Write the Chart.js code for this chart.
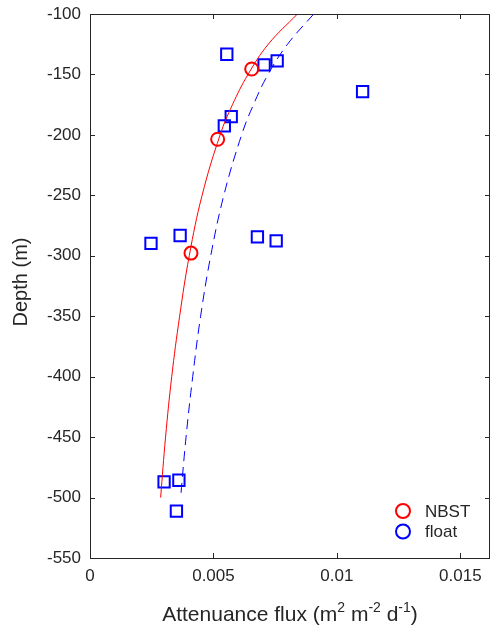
<!DOCTYPE html>
<html lang="en">
  <head>
    <meta charset="UTF-8" />
    <title>Attenuance flux vs depth</title>
    <script src="https://cdn.jsdelivr.net/npm/chart.js"></script>
    <style>
      body {
        margin: 0;
        padding: 0;
        background: #fff;
      }
      #wrap {
        width: 491px;
        height: 627px;
      }
    </style>
  </head>
  <body>
    <div id="wrap"><canvas id="fluxChart" width="491" height="627"></canvas></div>

    <script>
      // NBST sediment trap points
      const nbstFlux = [0.00655, 0.00517, 0.00409];
      const nbstDepth = [-145.5, -203.6, -297.8];

      // float points
      const floatFlux = [0.00554, 0.00705, 0.00758, 0.01104, 0.00572, 0.00544, 0.00247,
        0.00365, 0.00678, 0.00754, 0.003, 0.0036, 0.0035];
      const floatDepth = [-133.3, -142.1, -138.8, -164.2, -184.9, -192.6, -289.8,
        -283.2, -284.3, -287.6, -487.0, -485.7, -511.3];

      // fitted curves
      const curveDepth = [-100, -125, -150, -175, -200, -250, -300, -350, -400, -450, -500];
      const nbstCurve = [0.0084, 0.00722, 0.0064, 0.00577, 0.00527, 0.00454, 0.00402,
        0.00363, 0.00331, 0.00306, 0.00286];
      const floatCurve = [0.00906, 0.008, 0.00721, 0.00662, 0.00614, 0.00542, 0.00489,
        0.00448, 0.00416, 0.00389, 0.00367];

      const xTicks = [0, 0.005, 0.01, 0.015];
      const yTicks = [-550, -500, -450, -400, -350, -300, -250, -200, -150, -100];
      const legendLabels = ["NBST", "float"];

      const axisColor = "#262626";
      const red = "#ff0000";
      const blue = "#0000ff";

      const pairs = (xs, ys) => xs.map((v, i) => ({ x: v, y: ys[i] }));

      // box, inward ticks, axis titles and legend
      const framePlugin = {
        id: "frame",
        afterDraw(chart) {
          const ctx = chart.ctx;
          const a = chart.chartArea;
          const xs = chart.scales.x;
          const ys = chart.scales.y;
          ctx.save();
          ctx.strokeStyle = axisColor;
          ctx.lineWidth = 1;
          ctx.strokeRect(a.left + 0.5, a.top + 0.5, a.right - a.left - 1, a.bottom - a.top);
          ctx.beginPath();
          xTicks.forEach((v) => {
            const px = Math.round(xs.getPixelForValue(v)) + 0.5;
            ctx.moveTo(px, a.bottom);
            ctx.lineTo(px, a.bottom - 5);
            ctx.moveTo(px, a.top);
            ctx.lineTo(px, a.top + 5);
          });
          yTicks.forEach((v) => {
            const py = Math.round(ys.getPixelForValue(v)) + 0.5;
            ctx.moveTo(a.left, py);
            ctx.lineTo(a.left + 5, py);
            ctx.moveTo(a.right, py);
            ctx.lineTo(a.right - 5, py);
          });
          ctx.stroke();

          // y title
          ctx.fillStyle = axisColor;
          ctx.font = "20px 'Liberation Sans', Arial, sans-serif";
          ctx.textAlign = "center";
          ctx.textBaseline = "middle";
          ctx.save();
          ctx.translate(21, (a.top + a.bottom) / 2 - 4);
          ctx.rotate(-Math.PI / 2);
          ctx.fillText("Depth (m)", 0, 0);
          ctx.restore();

          // x title with superscripts
          const parts = [
            ["Attenuance flux (m", false],
            ["2", true],
            [" m", false],
            ["-2", true],
            [" d", false],
            ["-1", true],
            [")", false],
          ];
          const big = "21px 'Liberation Sans', Arial, sans-serif";
          const small = "14px 'Liberation Sans', Arial, sans-serif";
          let total = 0;
          parts.forEach(([t, sup]) => {
            ctx.font = sup ? small : big;
            total += ctx.measureText(t).width;
          });
          let x = (a.left + a.right) / 2 - total / 2;
          const base = 621;
          ctx.textAlign = "left";
          ctx.textBaseline = "alphabetic";
          parts.forEach(([t, sup]) => {
            ctx.font = sup ? small : big;
            ctx.fillText(t, x, sup ? base - 9 : base);
            x += ctx.measureText(t).width;
          });

          // legend (markers shown as circles)
          const colors = [red, blue];
          ctx.font = "17px 'Liberation Sans', Arial, sans-serif";
          ctx.textBaseline = "middle";
          legendLabels.forEach((lab, i) => {
            const cy = 511 + i * 20.5;
            ctx.beginPath();
            ctx.strokeStyle = colors[i];
            ctx.lineWidth = 2;
            ctx.arc(403, cy, 7, 0, Math.PI * 2);
            ctx.stroke();
            ctx.fillStyle = axisColor;
            ctx.fillText(lab, 425, cy + 1);
          });
          ctx.restore();
        },
      };

      const tickFont = { family: "'Liberation Sans', Arial, sans-serif", size: 17 };

      new Chart(document.getElementById("fluxChart"), {
        type: "scatter",
        data: {
          datasets: [
            {
              label: "NBST fit",
              data: pairs(nbstCurve, curveDepth),
              showLine: true,
              borderColor: red,
              borderWidth: 1,
              pointRadius: 0,
              tension: 0.4,
            },
            {
              label: "float fit",
              data: pairs(floatCurve, curveDepth),
              showLine: true,
              borderColor: blue,
              borderWidth: 1,
              borderDash: [10, 6],
              pointRadius: 0,
              tension: 0.4,
            },
            {
              label: "NBST",
              data: pairs(nbstFlux, nbstDepth),
              pointStyle: "circle",
              pointRadius: 6.5,
              borderColor: red,
              borderWidth: 2,
              backgroundColor: "rgba(0,0,0,0)",
            },
            {
              label: "float",
              data: pairs(floatFlux, floatDepth),
              pointStyle: "rect",
              pointRadius: 8,
              borderColor: blue,
              borderWidth: 2,
              backgroundColor: "rgba(0,0,0,0)",
            },
          ],
        },
        options: {
          responsive: false,
          animation: false,
          layout: { autoPadding: false, padding: { top: 14, right: 1, left: 0, bottom: 0 } },
          plugins: {
            legend: { display: false },
            tooltip: { enabled: false },
          },
          scales: {
            x: {
              type: "linear",
              min: 0,
              max: 0.0162,
              grid: { display: false, drawTicks: false },
              border: { display: false },
              afterBuildTicks: (s) => {
                s.ticks = xTicks.map((v) => ({ value: v }));
              },
              afterFit: (s) => {
                s.height = 69;
                s.paddingLeft = 0;
                s.paddingRight = 0;
              },
              ticks: {
                color: axisColor,
                font: tickFont,
                padding: 8,
                maxRotation: 0,
                callback: (v) => String(v),
              },
            },
            y: {
              type: "linear",
              min: -550,
              max: -100,
              grid: { display: false, drawTicks: false },
              border: { display: false },
              afterBuildTicks: (s) => {
                s.ticks = yTicks.map((v) => ({ value: v }));
              },
              afterFit: (s) => {
                s.width = 90;
                s.paddingTop = 0;
                s.paddingBottom = 0;
              },
              ticks: {
                color: axisColor,
                font: tickFont,
                padding: 9,
                callback: (v) => String(v),
              },
            },
          },
        },
        plugins: [framePlugin],
      });
    </script>
  </body>
</html>
